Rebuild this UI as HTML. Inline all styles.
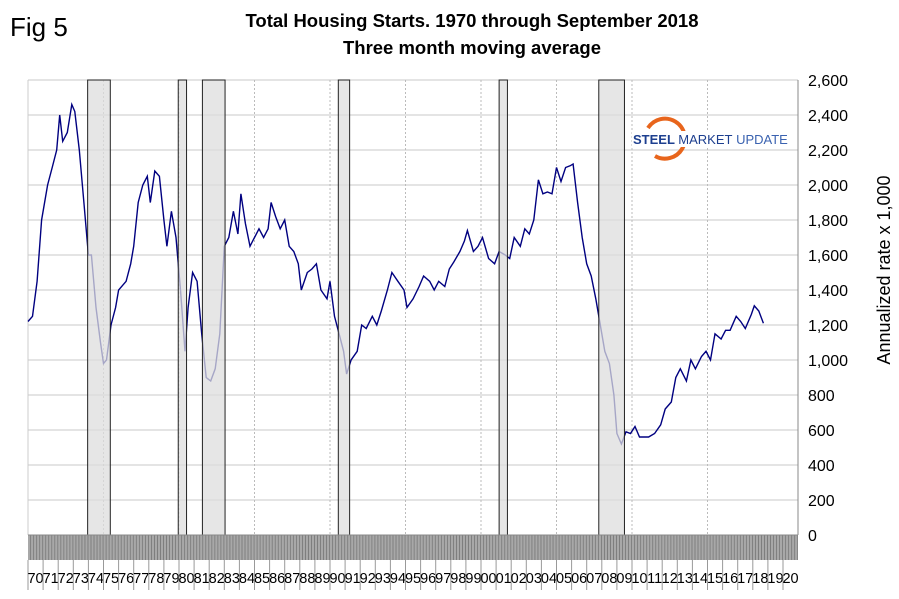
<!DOCTYPE html>
<html><head><meta charset="utf-8"><style>
body{margin:0;background:#fff;}
svg text{font-family:"Liberation Sans",Arial,sans-serif;}
</style></head><body>
<svg width="899" height="594" xmlns="http://www.w3.org/2000/svg">
<defs>
<pattern id="stripes" width="3.02" height="25" patternUnits="userSpaceOnUse">
<rect width="3.02" height="25" fill="#a8a8a8"/><rect width="0.8" height="25" fill="#777"/>
</pattern>
</defs>
<text x="10" y="36" font-size="26">Fig 5</text>
<text x="472" y="27" font-size="18.5" font-weight="bold" text-anchor="middle">Total Housing Starts. 1970 through September 2018</text>
<text x="472" y="54" font-size="18.5" font-weight="bold" text-anchor="middle">Three month moving average</text>
<g id="grid"></g>
<g>
<path d="M648 128 A20 20 0 1 1 655 156" fill="none" stroke="#e8651c" stroke-width="4"/>
<rect x="632" y="131" width="140" height="16" fill="#fff"/>
<text x="633" y="144" font-size="13" font-weight="bold" fill="#1d3f8f">STEEL <tspan font-weight="normal">MARKET</tspan> <tspan font-weight="normal" fill="#3a62b0">UPDATE</tspan></text>
</g>
<path id="line" fill="none" stroke="#000080" stroke-width="1.4"/>
<g id="recessions"></g>
<rect x="28" y="535" width="770" height="25" fill="url(#stripes)"/>
<line x1="28" y1="535" x2="798" y2="535" stroke="#888"/>
<g id="xaxis"></g>
<g id="yaxis"></g>
<line x1="798" y1="80" x2="798" y2="535" stroke="#888"/>
<text transform="translate(890,270) rotate(-90)" font-size="18" text-anchor="middle">Annualized rate x 1,000</text>
</svg>
<script>
const years=[1970.0,1970.3,1970.6,1970.9,1971.3,1971.6,1971.9,1972.1,1972.3,1972.6,1972.9,1973.1,1973.4,1973.7,1974.0,1974.2,1974.5,1974.8,1975.0,1975.2,1975.5,1975.8,1976.0,1976.5,1976.8,1977.0,1977.3,1977.6,1977.9,1978.1,1978.4,1978.7,1979.0,1979.2,1979.5,1979.8,1980.1,1980.4,1980.6,1980.9,1981.2,1981.5,1981.8,1982.1,1982.4,1982.7,1983.0,1983.3,1983.6,1983.9,1984.1,1984.4,1984.7,1985.0,1985.3,1985.6,1985.9,1986.1,1986.4,1986.7,1987.0,1987.3,1987.6,1987.9,1988.1,1988.5,1988.8,1989.1,1989.4,1989.8,1990.0,1990.3,1990.6,1990.9,1991.1,1991.4,1991.8,1992.1,1992.4,1992.8,1993.1,1993.4,1993.8,1994.1,1994.5,1994.9,1995.1,1995.5,1995.9,1996.2,1996.6,1996.9,1997.2,1997.6,1997.9,1998.2,1998.6,1998.9,1999.1,1999.5,1999.8,2000.1,2000.5,2000.9,2001.2,2001.6,2001.9,2002.2,2002.6,2002.9,2003.2,2003.5,2003.8,2004.1,2004.4,2004.7,2005.0,2005.3,2005.6,2005.9,2006.1,2006.4,2006.7,2007.0,2007.3,2007.6,2007.9,2008.2,2008.5,2008.8,2009.0,2009.3,2009.6,2009.9,2010.2,2010.5,2010.8,2011.1,2011.5,2011.9,2012.2,2012.6,2012.9,2013.2,2013.6,2013.9,2014.2,2014.6,2014.9,2015.2,2015.5,2015.9,2016.2,2016.5,2016.9,2017.2,2017.5,2017.9,2018.1,2018.4,2018.7];
const starts=[1220,1250,1450,1800,2000,2100,2200,2400,2250,2300,2460,2420,2200,1900,1600,1600,1300,1100,980,1000,1200,1300,1400,1450,1550,1650,1900,2000,2050,1900,2080,2050,1800,1650,1850,1700,1400,1050,1300,1500,1450,1150,900,880,950,1150,1650,1700,1850,1720,1950,1780,1650,1700,1750,1700,1750,1900,1820,1750,1800,1650,1620,1550,1400,1500,1520,1550,1400,1350,1450,1250,1150,1050,920,1000,1050,1200,1180,1250,1200,1280,1400,1500,1450,1400,1300,1350,1420,1480,1450,1400,1450,1420,1520,1560,1620,1680,1740,1620,1650,1700,1580,1550,1620,1600,1580,1700,1650,1750,1720,1800,2030,1950,1960,1950,2100,2020,2100,2110,2120,1900,1700,1550,1480,1350,1200,1050,980,800,580,520,590,580,620,560,560,560,580,630,720,760,900,950,880,1000,950,1020,1050,1000,1150,1120,1170,1170,1250,1220,1180,1260,1310,1280,1210];
const recStart=[1973.95,1979.95,1981.55,1990.55,2001.2,2007.8];
const recEnd=[1975.45,1980.5,1983.05,1991.3,2001.75,2009.5];
const yTicks=[0,200,400,600,800,1000,1200,1400,1600,1800,2000,2200,2400,2600];
const xLabels=['70','71','72','73','74','75','76','77','78','79','80','81','82','83','84','85','86','87','88','89','90','91','92','93','94','95','96','97','98','99','00','01','02','03','04','05','06','07','08','09','10','11','12','13','14','15','16','17','18','19','20'];
const X0=28,YW=15.1,Y0=535,YS=455/2600;
const sx=y=>X0+(y-1970)*YW, sy=v=>Y0-v*YS;
const NS='http://www.w3.org/2000/svg';
function mk(t,a,p){const e=document.createElementNS(NS,t);for(const k in a)e.setAttribute(k,a[k]);p.appendChild(e);return e;}
const grid=document.getElementById('grid'),ya=document.getElementById('yaxis'),xa=document.getElementById('xaxis'),rc=document.getElementById('recessions');
yTicks.forEach(v=>{
 const l=mk('line',{x1:X0,x2:798,y1:sy(v),y2:sy(v),stroke:'#c8c8c8'},grid);
 
 
 const t=mk('text',{x:808,y:sy(v)+6,'font-size':16},ya);t.textContent=v.toLocaleString('en-US');
 
 
});
for(let y=1975;y<2020;y+=5){
 const l=mk('line',{x1:sx(y),x2:sx(y),y1:80,y2:535,stroke:'#bbb','stroke-dasharray':'2,2'},grid);
 
 
}
mk('line',{x1:X0,x2:X0,y1:80,y2:535,stroke:'#ccc'},grid);
xLabels.forEach((s,i)=>{
 const x=X0+i*YW;
 mk('line',{x1:x,x2:x,y1:560,y2:590,stroke:'#999'},xa);
 const t=mk('text',{x:x+YW/2,y:583,'font-size':14.5,'text-anchor':'middle'},xa);t.textContent=s;
 
 
});
document.getElementById('line').setAttribute('d',years.map((y,i)=>(i?'L':'M')+sx(y).toFixed(1)+' '+sy(starts[i]).toFixed(1)).join(''));
recStart.forEach((s,i)=>{
 const r=mk('rect',{x:sx(s),y:80,width:sx(recEnd[i])-sx(s),height:455,fill:'#dedede','fill-opacity':0.75,stroke:'#222','stroke-width':1},rc);
 
 
});
</script>
</body></html>
